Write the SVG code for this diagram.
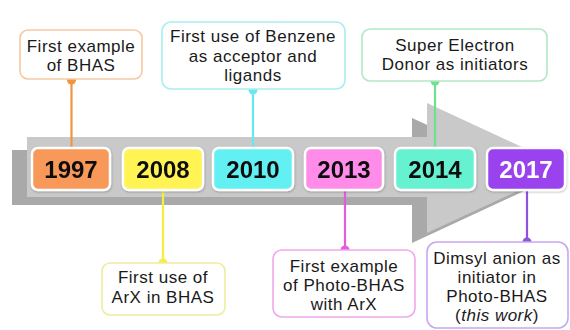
<svg xmlns="http://www.w3.org/2000/svg" width="570" height="330" viewBox="0 0 570 330">
<style>
.lbl{font-family:"Liberation Sans",Arial,sans-serif;font-size:17px;letter-spacing:0.5px;fill:#1a1a1a;text-anchor:middle}
.yr{font-family:"Liberation Sans",Arial,sans-serif;font-size:24px;font-weight:bold;fill:#111;text-anchor:middle}
.box{fill:#fff;stroke-width:1.6}
.ybox{stroke:#fff;stroke-width:2.5}
.ln{stroke-width:2.2;fill:none}
</style>
<defs>
<filter id="sh" x="-10%" y="-10%" width="130%" height="140%">
<feDropShadow dx="0.5" dy="1" stdDeviation="0.8" flood-color="#000" flood-opacity="0.25"/>
</filter>
</defs>
<rect width="570" height="330" fill="#fff"/>
<g id="arrow">
<polygon points="12,150 412,150 412,118 548,180 412,243 412,205 12,205" fill="#a9a9a9"/>
<polygon points="27,137 427,137 427,103 567,168 427,233 427,197 27,197" fill="#c9c9c9"/>
</g>
<g id="connectors">
<line class="ln" x1="71.5" y1="80" x2="71.5" y2="150" stroke="#f0943e"/>
<circle cx="71.5" cy="80" r="4.5" fill="#f0943e"/>
<line class="ln" x1="253" y1="90" x2="253" y2="150" stroke="#66e8f0"/>
<circle cx="253" cy="90" r="4.5" fill="#66e8f0"/>
<line class="ln" x1="435" y1="81" x2="435" y2="150" stroke="#6ee08e"/>
<circle cx="435" cy="81" r="4.5" fill="#6ee08e"/>
<line class="ln" x1="163" y1="188" x2="163" y2="263" stroke="#f4ee40"/>
<circle cx="163" cy="263" r="4.5" fill="#f4ee40"/>
<line class="ln" x1="345" y1="188" x2="345" y2="250" stroke="#e25ce0"/>
<circle cx="345" cy="250" r="4.5" fill="#e25ce0"/>
<line class="ln" x1="527" y1="188" x2="527" y2="242" stroke="#9050e0"/>
<circle cx="527" cy="242" r="4.5" fill="#9050e0"/>
</g>
<g id="y1997" filter="url(#sh)"><rect class="ybox" x="32" y="148" width="78" height="42" rx="6" fill="#f8995a"/><text class="yr" x="71" y="178">1997</text></g>
<g id="y2008" filter="url(#sh)"><rect class="ybox" x="123" y="148" width="80" height="42" rx="6" fill="#fff452"/><text class="yr" x="163" y="178">2008</text></g>
<g id="y2010" filter="url(#sh)"><rect class="ybox" x="213" y="148" width="80" height="42" rx="6" fill="#64f0f2"/><text class="yr" x="253" y="178">2010</text></g>
<g id="y2013" filter="url(#sh)"><rect class="ybox" x="305" y="148" width="78" height="42" rx="6" fill="#ff8ce8"/><text class="yr" x="344" y="178">2013</text></g>
<g id="y2014" filter="url(#sh)"><rect class="ybox" x="395" y="148" width="80" height="42" rx="6" fill="#66f2d0"/><text class="yr" x="435" y="178">2014</text></g>
<g id="y2017" filter="url(#sh)"><rect class="ybox" x="487" y="148" width="78" height="42" rx="6" fill="#9942ee"/><text class="yr" x="526" y="178" style="fill:#fff">2017</text></g>
<g id="n1997"><rect class="box" x="20" y="30" width="122" height="49" rx="8" stroke="#f6c9a2"/><text class="lbl" x="81" y="52">First example</text><text class="lbl" x="81" y="71">of BHAS</text></g>
<g id="n2010"><rect class="box" x="162" y="22" width="183" height="67" rx="9" stroke="#a8eef0"/><text class="lbl" x="253" y="42">First use of Benzene</text><text class="lbl" x="253" y="61.5">as acceptor and</text><text class="lbl" x="253" y="81">ligands</text></g>
<g id="n2014"><rect class="box" x="362" y="29" width="185" height="52" rx="8" stroke="#b2e8c2"/><text class="lbl" x="455" y="51">Super Electron</text><text class="lbl" x="455" y="70">Donor as initiators</text></g>
<g id="n2008"><rect class="box" x="102" y="263" width="123" height="52" rx="8" stroke="#f0eca0"/><text class="lbl" x="163" y="283">First use of</text><text class="lbl" x="163" y="303">ArX in BHAS</text></g>
<g id="n2013"><rect class="box" x="273" y="250" width="142" height="67" rx="9" stroke="#f0a8ec"/><text class="lbl" x="344" y="272">First example</text><text class="lbl" x="344" y="291">of Photo-BHAS</text><text class="lbl" x="344" y="310">with ArX</text></g>
<g id="n2017"><rect class="box" x="427" y="242" width="141" height="86" rx="10" stroke="#c8a8f0"/><text class="lbl" x="497" y="264">Dimsyl anion as</text><text class="lbl" x="497" y="283">initiator in</text><text class="lbl" x="497" y="302">Photo-BHAS</text><text class="lbl" x="497" y="321">(<tspan font-style="italic">this work</tspan>)</text></g>
</svg>
